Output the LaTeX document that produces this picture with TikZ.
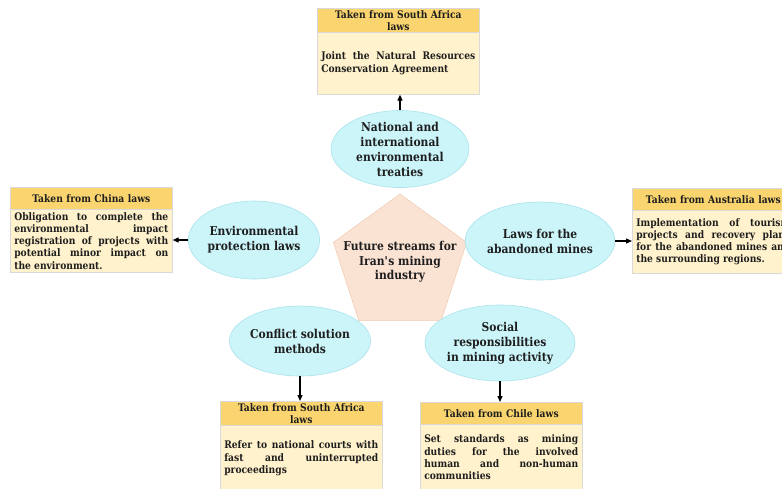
\documentclass[tikz,border=0pt]{standalone}
\usepackage{fontspec}
\setmainfont{DejaVu Serif}[FakeStretch=0.88]
\usetikzlibrary{shapes.geometric,arrows.meta}
\definecolor{hdrcol}{HTML}{FAD56F}
\definecolor{bodycol}{HTML}{FFF2CC}
\definecolor{boxline}{HTML}{D9D9D9}
\definecolor{ellcol}{HTML}{CCF5FA}
\definecolor{elline}{HTML}{A9E3EC}
\definecolor{pentcol}{HTML}{FBE3D4}
\definecolor{pentline}{HTML}{F2CDB5}
\definecolor{txt}{HTML}{1E1E1E}
\hyphenpenalty=10000
\exhyphenpenalty=10000
\begin{document}
\begin{tikzpicture}[x=1pt,y=-1pt,
  hdr/.style={anchor=north west, fill=hdrcol, draw=boxline, line width=0.6pt, text width=154pt, inner xsep=4pt, inner ysep=0pt, align=center, font=\fontsize{10.4}{11.8}\selectfont\bfseries, text=txt},
  body/.style={anchor=north west, fill=bodycol, draw=boxline, line width=0.6pt, text width=154pt, inner xsep=4pt, inner ysep=0pt, align=justify, font=\fontsize{10.4}{12.2}\selectfont\bfseries, text=txt},
  ell/.style={ellipse, fill=ellcol, draw=elline, line width=0.6pt, inner sep=0pt, align=center, font=\fontsize{12.2}{15}\selectfont\bfseries, text=txt},
  arr/.style={-{Triangle[length=6pt,width=5pt]}, line width=1.2pt, black}]
\useasboundingbox (0,0) rectangle (782,488);
\clip (0,0) rectangle (782,488);
\fill[white] (0,0) rectangle (782,488);

% pentagon
\node[regular polygon, regular polygon sides=5, minimum size=140pt, inner sep=0pt, fill=pentcol, draw=pentline, line width=0.6pt] (P) at (400,264) {};
\node[align=center, font=\fontsize{12.2}{14.5}\selectfont\bfseries, text=txt] (Pt) at (400,262) {Future streams for\\Iran\textquotesingle s mining\\industry};

% ellipses
\node[ell, minimum width=138pt, minimum height=76pt] (TE) at (400,149) {National and\\international\\environmental\\treaties};
\node[ell, minimum width=120pt, minimum height=78pt] (LE) at (254,240) {Environmental\\protection laws};
\node[ell, minimum width=136pt, minimum height=78pt] (RE) at (540,241) {Laws for the\\abandoned mines};
\node[ell, minimum width=134pt, minimum height=70pt] (BLE) at (300,341) {Conflict solution\\methods};
\node[ell, minimum width=134pt, minimum height=76pt] (BRE) at (500,343) {Social\\responsibilities\\in mining activity};

% top box
\node[hdr, minimum height=24pt] (Th) at (317,8) {Taken from South Africa\\laws};
\node[body, minimum height=62pt] (Tb) at (317,32) {Joint the Natural Resources\linebreak Conservation Agreement};

% left box
\node[hdr, minimum height=22pt] (Lh) at (10,187) {Taken from China laws};
\node[body, minimum height=63pt] (Lb) at (10,209) {Obligation to complete the\linebreak environmental impact\linebreak registration of projects with\linebreak potential minor impact on\linebreak the environment.};

% right box
\node[hdr, minimum height=22pt] (Rh) at (632,188) {Taken from Australia laws};
\node[body, minimum height=63pt] (Rb) at (632,210) {Implementation of tourism\linebreak projects and recovery plans\linebreak for the abandoned mines and\linebreak the surrounding regions.};

% bottom-left box
\node[hdr, minimum height=24pt] (BLh) at (220,401) {Taken from South Africa\\laws};
\node[body, minimum height=66pt] (BLb) at (220,425) {Refer to national courts with\linebreak fast and uninterrupted\linebreak proceedings};

% bottom-right box
\node[hdr, minimum height=22pt] (BRh) at (420,402) {Taken from Chile laws};
\node[body, minimum height=66pt] (BRb) at (420,424) {Set standards as mining\linebreak duties for the involved\linebreak human and non-human\linebreak communities};

% arrows
\draw[arr] (TE.north) -- (TE.north |- Tb.south);
\draw[arr] (LE.west) -- (LE.west -| Lb.east);
\draw[arr] (RE.east) -- (RE.east -| Rb.west);
\draw[arr] (BLE.south) -- (BLE.south |- BLh.north);
\draw[arr] (BRE.south) -- (BRE.south |- BRh.north);
\end{tikzpicture}
\end{document}
